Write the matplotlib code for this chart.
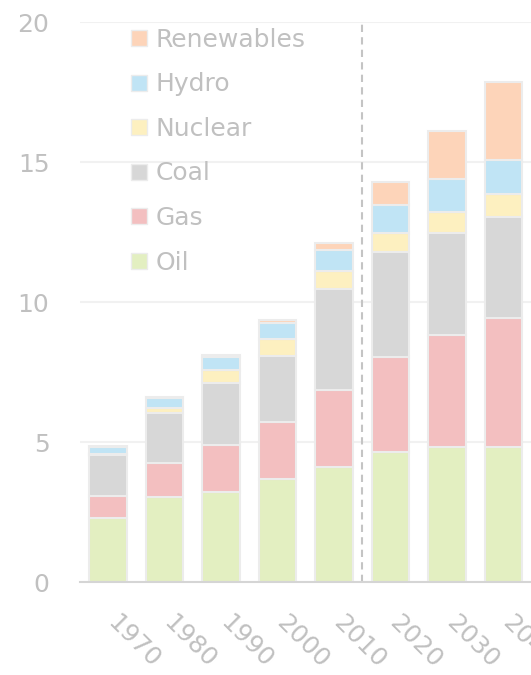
import matplotlib
matplotlib.use("Agg")
import matplotlib.pyplot as plt
from matplotlib.patches import Patch
from matplotlib.transforms import ScaledTranslation
import numpy as np

years = ["1970", "1980", "1990", "2000", "2010", "2020", "2030", "2040"]
oil = [2.29, 3.04, 3.21, 3.68, 4.11, 4.64, 4.82, 4.82]
gas = [0.78, 1.21, 1.68, 2.03, 2.75, 3.40, 4.00, 4.61]
coal = [1.47, 1.79, 2.21, 2.36, 3.60, 3.75, 3.64, 3.61]
nuclear = [0.03, 0.17, 0.47, 0.61, 0.64, 0.67, 0.75, 0.82]
hydro = [0.25, 0.36, 0.47, 0.57, 0.76, 1.00, 1.18, 1.21]
renewables = [0.03, 0.05, 0.06, 0.11, 0.24, 0.83, 1.71, 2.79]

series = [("Oil", oil, "#e3efc1"), ("Gas", gas, "#f3bfc0"), ("Coal", coal, "#d7d7d7"),
          ("Nuclear", nuclear, "#fdf0c0"), ("Hydro", hydro, "#c0e4f5"),
          ("Renewables", renewables, "#fdd4b9")]

W, H = 531, 675
fig = plt.figure(figsize=(W / 100, H / 100), dpi=100)
ax = fig.add_axes([80 / W, 93 / H, (W - 80) / W, 560 / H])

txt = "#c0c0c0"
x = np.arange(len(years))
bottom = np.zeros(len(years))
for name, vals, col in series:
    ax.bar(x, vals, width=0.67, bottom=bottom, color=col, edgecolor="#ececec",
           linewidth=1.5, zorder=3)
    bottom += np.array(vals)

ax.set_xlim(-0.4956, 7.486)
ax.set_ylim(0, 20)
ax.set_yticks([0, 5, 10, 15, 20])
ax.yaxis.grid(True, color="#f1f1f1", linewidth=1.5, zorder=0)
ax.set_axisbelow(True)
for s in ["top", "right", "left"]:
    ax.spines[s].set_visible(False)
ax.spines["bottom"].set_color("#d5d5d5")
ax.spines["bottom"].set_linewidth(1.5)
ax.spines["bottom"].set_zorder(4)

ax.tick_params(axis="y", length=0, pad=22, labelsize=18, labelcolor=txt)
ax.tick_params(axis="x", length=0, pad=43, labelsize=18, labelcolor=txt)

ax.set_xticks(x)
ax.set_xticklabels(years, rotation=-45, ha="center", va="center", rotation_mode="anchor")
off = ScaledTranslation(0.255, 0, fig.dpi_scale_trans)
for lab in ax.get_xticklabels():
    lab.set_transform(lab.get_transform() + off)

ax.axvline(4.5, color="#c4c4c4", linewidth=1.5, linestyle=(0, (3.5, 2.5)), zorder=2)

handles = [Patch(facecolor=c, edgecolor="#ececec", linewidth=1, label=n) for n, v, c in series][::-1]
leg = fig.legend(handles=handles, loc="upper left", bbox_to_anchor=(131 / W, 1 - 28 / H),
                 frameon=False, fontsize=18, handlelength=0.62, handleheight=0.62,
                 handletextpad=0.35, labelspacing=0.82, borderpad=0, borderaxespad=0)
for t in leg.get_texts():
    t.set_color(txt)

fig.savefig("out.png", dpi=100)
